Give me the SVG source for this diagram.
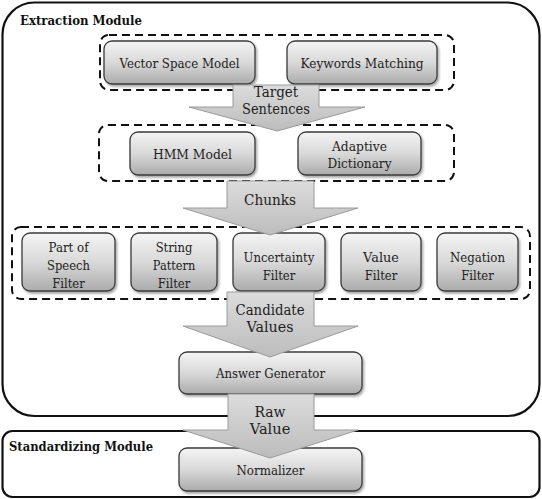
<svg xmlns="http://www.w3.org/2000/svg" width="542" height="499" viewBox="0 0 542 499">
<defs>
<linearGradient id="boxg" x1="0" y1="0" x2="0" y2="1">
<stop offset="0" stop-color="#f4f4f4"/>
<stop offset="0.5" stop-color="#d9d9d9"/>
<stop offset="1" stop-color="#ababab"/>
</linearGradient>
<linearGradient id="arrg" x1="0" y1="0" x2="0" y2="1">
<stop offset="0" stop-color="#dcdcdc"/>
<stop offset="1" stop-color="#bcbcbc"/>
</linearGradient>
<filter id="sh" x="-10%" y="-10%" width="125%" height="130%">
<feDropShadow dx="1.5" dy="2" stdDeviation="1.2" flood-color="#000" flood-opacity="0.35"/>
</filter>
</defs>
<style>
text{font-family:'DejaVu Serif','Liberation Serif',serif}
.module{fill:#fff;stroke:#111;stroke-width:2.2}
.mtitle{font-weight:bold;font-size:13.5px;fill:#111}
.dash{fill:none;stroke:#111;stroke-width:2;stroke-dasharray:8,5}
.box{fill:url(#boxg);stroke:#3a3a3a;stroke-width:1.3;filter:url(#sh)}
.t{font-size:13.5px;fill:#222;text-anchor:middle}
.arr{fill:url(#arrg);stroke:#9a9a9a;stroke-width:1}
.at{font-size:15.5px;fill:#222;text-anchor:middle}
</style>

<g id="extraction-module">
<rect class="module" x="2.5" y="2.5" width="537" height="413.5" rx="32" ry="32"/>
<text class="mtitle" x="20" y="25" textLength="122" lengthAdjust="spacingAndGlyphs">Extraction Module</text>
</g>
<g id="standardizing-module">
<rect class="module" x="2.5" y="431" width="537" height="66" rx="10" ry="10"/>
<text class="mtitle" x="9" y="451" textLength="144" lengthAdjust="spacingAndGlyphs">Standardizing Module</text>
</g>

<g id="group-retrieval"><rect class="dash" x="100" y="35" width="354" height="55" rx="9"/></g>
<g id="group-chunking"><rect class="dash" x="99" y="125" width="355" height="56" rx="9"/></g>
<g id="group-filters"><rect class="dash" x="12" y="227" width="518" height="72" rx="9"/></g>

<g id="vector-space-model"><rect class="box" x="104" y="41" width="151" height="43" rx="8"/><text class="t" x="179.5" y="68" textLength="120" lengthAdjust="spacingAndGlyphs">Vector Space Model</text></g>
<g id="keywords-matching"><rect class="box" x="287" y="41" width="150" height="43" rx="8"/><text class="t" x="362" y="68" textLength="123" lengthAdjust="spacingAndGlyphs">Keywords Matching</text></g>

<g id="hmm-model"><rect class="box" x="130" y="132" width="125" height="43" rx="8"/><text class="t" x="192.5" y="159" textLength="79" lengthAdjust="spacingAndGlyphs">HMM Model</text></g>
<g id="adaptive-dictionary"><rect class="box" x="298" y="132" width="123" height="43" rx="8"/><text class="t" x="359.5" y="151" textLength="55" lengthAdjust="spacingAndGlyphs">Adaptive</text><text class="t" x="359.5" y="168" textLength="64" lengthAdjust="spacingAndGlyphs">Dictionary</text></g>

<g id="pos-filter"><rect class="box" x="22" y="233" width="93" height="58" rx="8"/><text class="t" x="68.5" y="252" textLength="40" lengthAdjust="spacingAndGlyphs">Part of</text><text class="t" x="68.5" y="270" textLength="43" lengthAdjust="spacingAndGlyphs">Speech</text><text class="t" x="68.5" y="288" textLength="32.5" lengthAdjust="spacingAndGlyphs">Filter</text></g>
<g id="string-pattern-filter"><rect class="box" x="131" y="233" width="86" height="58" rx="8"/><text class="t" x="174" y="252" textLength="36.7" lengthAdjust="spacingAndGlyphs">String</text><text class="t" x="174" y="270" textLength="42.5" lengthAdjust="spacingAndGlyphs">Pattern</text><text class="t" x="174" y="288" textLength="32.5" lengthAdjust="spacingAndGlyphs">Filter</text></g>
<g id="uncertainty-filter"><rect class="box" x="233" y="233" width="92" height="58" rx="8"/><text class="t" x="279" y="262" textLength="70.8" lengthAdjust="spacingAndGlyphs">Uncertainty</text><text class="t" x="279" y="280" textLength="32.5" lengthAdjust="spacingAndGlyphs">Filter</text></g>
<g id="value-filter"><rect class="box" x="341" y="233" width="80" height="58" rx="8"/><text class="t" x="381" y="262" textLength="35.8" lengthAdjust="spacingAndGlyphs">Value</text><text class="t" x="381" y="280" textLength="32.5" lengthAdjust="spacingAndGlyphs">Filter</text></g>
<g id="negation-filter"><rect class="box" x="437" y="233" width="81" height="58" rx="8"/><text class="t" x="477.5" y="262" textLength="55" lengthAdjust="spacingAndGlyphs">Negation</text><text class="t" x="477.5" y="280" textLength="32.5" lengthAdjust="spacingAndGlyphs">Filter</text></g>

<g id="answer-generator"><rect class="box" x="179" y="352" width="183" height="42" rx="8"/><text class="t" x="270.5" y="378" textLength="109" lengthAdjust="spacingAndGlyphs">Answer Generator</text></g>
<g id="normalizer"><rect class="box" x="179" y="448" width="183" height="43" rx="8"/><text class="t" x="270.5" y="475" textLength="68" lengthAdjust="spacingAndGlyphs">Normalizer</text></g>

<g id="connectors">
<path class="arr" d="M233,85 L319,85 L319,107 L365,107 L277,131 L189,107 L233,107 Z"/>
<text class="at" x="276" y="97" textLength="44.4" lengthAdjust="spacingAndGlyphs">Target</text>
<text class="at" x="276" y="114" textLength="68" lengthAdjust="spacingAndGlyphs">Sentences</text>
<path class="arr" d="M227,181 L314,181 L314,208 L358,208 L270,235 L183,208 L227,208 Z"/>
<text class="at" x="270" y="205" textLength="52" lengthAdjust="spacingAndGlyphs">Chunks</text>
<path class="arr" d="M227,292 L314,292 L314,326 L358,326 L270,357 L183,326 L227,326 Z"/>
<text class="at" x="270" y="315" textLength="69" lengthAdjust="spacingAndGlyphs">Candidate</text>
<text class="at" x="270" y="332" textLength="47" lengthAdjust="spacingAndGlyphs">Values</text>
<path class="arr" d="M228,394 L314,394 L314,430 L358,430 L270,458 L183,430 L228,430 Z"/>
<text class="at" x="270" y="417" textLength="31" lengthAdjust="spacingAndGlyphs">Raw</text>
<text class="at" x="270" y="434" textLength="40.6" lengthAdjust="spacingAndGlyphs">Value</text>
</g>
</svg>
